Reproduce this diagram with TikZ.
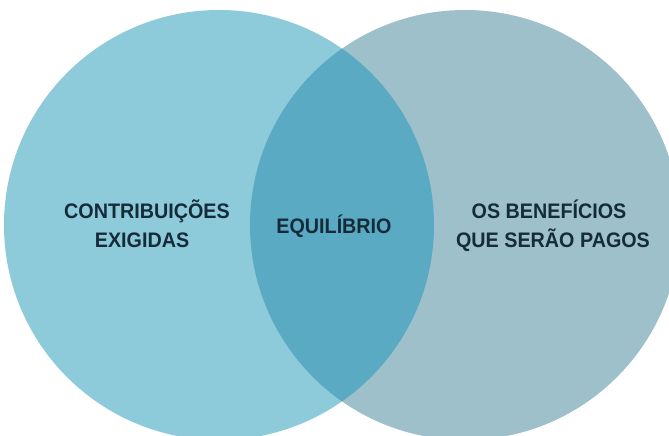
\documentclass[tikz,border=0pt]{standalone}
\usepackage{fontspec}
\setmainfont{Liberation Sans}
\newfontfamily\lblfont[FakeStretch=0.94]{Liberation Sans}
\definecolor{leftc}{HTML}{8DCBDB}
\definecolor{rightc}{HTML}{9DC0CA}
\definecolor{midc}{HTML}{5BAAC3}
\definecolor{txt}{HTML}{162B3A}
\tikzset{lbl/.style={text=txt, font=\lblfont\fontsize{21}{29}\selectfont\bfseries, anchor=base, inner sep=0pt}}
\begin{document}
\begin{tikzpicture}[x=1pt,y=-1pt]
\useasboundingbox (0,0) rectangle (669,436);
\clip (0,0) rectangle (669,436);
\fill[white] (0,0) rectangle (669,436);
\fill[leftc] (219,225) circle[radius=215];
\fill[rightc] (465,225) circle[radius=215];
\begin{scope}
\clip (219,225) circle[radius=215];
\fill[midc] (465,225) circle[radius=215];
\end{scope}
\node[lbl] (l1) at (147,218) {CONTRIBUIÇÕES};
\node[lbl] (l2) at (142,247) {EXIGIDAS};
\node[lbl] (m) at (334,233) {EQUILÍBRIO};
\node[lbl] (r1) at (549,218) {OS BENEFÍCIOS};
\node[lbl] (r2) at (553,247) {QUE SERÃO PAGOS};
\end{tikzpicture}
\end{document}
